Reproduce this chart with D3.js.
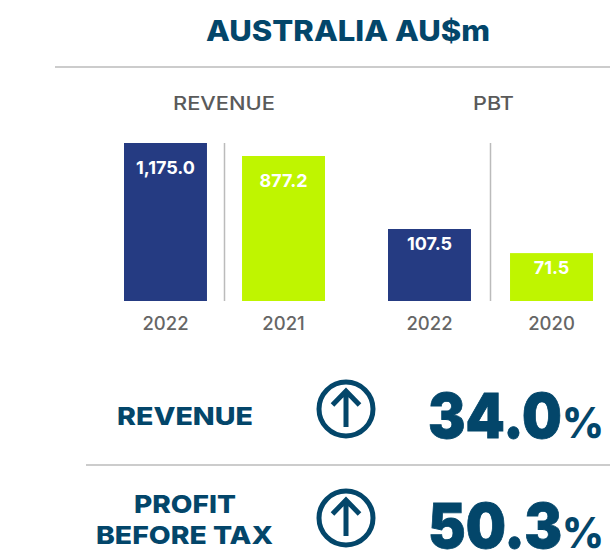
<!DOCTYPE html>
<html>
<head>
<meta charset="utf-8">
<script src="https://cdn.jsdelivr.net/npm/d3@7"></script>
<style>
  html, body { margin: 0; background: #fff; }
  svg { display: block; font-family: Inter, "Noto Sans", sans-serif; }
</style>
</head>
<body>
<div id="chart"></div>
<script>
// values
const revenueYears = ['2022', '2021'];
const revenueValues = [1175.0, 877.2];
const pbtYears = ['2022', '2020'];
const pbtValues = [107.5, 71.5];
const barColors = ['#253b82', '#bff500'];
const kpiValues = ['34.0', '50.3'];

const width = 610;
const height = 550;
const teal = '#03466a';
const grey = '#5a5a5a';
const ruleColor = '#bbbbbb';

const svg = d3
  .select('#chart')
  .append('svg')
  .attr('width', width)
  .attr('height', height);

function fitText(sel, w) {
  return sel.attr('textLength', w).attr('lengthAdjust', 'spacingAndGlyphs');
}

function rule(x1, x2, y) {
  svg.append('line')
    .attr('x1', x1).attr('x2', x2).attr('y1', y).attr('y2', y)
    .attr('stroke', ruleColor).attr('stroke-width', 1.5);
}

// title
fitText(svg.append('text')
  .attr('x', 206).attr('y', 41)
  .attr('fill', teal)
  .attr('font-size', 28)
  .attr('font-weight', 800)
  .text('AUSTRALIA AU$m'), 284);
rule(55, 610, 67);

const baseY = 301;

function panel(opts) {
  const g = svg.append('g');

  const x = d3.scaleBand()
    .domain(opts.years)
    .range(opts.xRange)
    .paddingInner(opts.pad);

  // the picture's bars are not zero based on the revenue side, hence the domain
  const y = d3.scaleLinear().domain(opts.domain).range([baseY, opts.topY]);

  fitText(g.append('text')
    .attr('x', opts.titleX).attr('y', 110)
    .attr('fill', grey)
    .attr('font-size', 19)
    .attr('font-weight', 500)
    .text(opts.title), opts.titleW);

  g.selectAll('rect')
    .data(opts.values)
    .join('rect')
    .attr('x', (d, i) => x(opts.years[i]))
    .attr('y', d => y(d))
    .attr('width', x.bandwidth())
    .attr('height', d => baseY - y(d))
    .attr('fill', (d, i) => barColors[i]);

  g.selectAll('.val')
    .data(opts.values)
    .join('text')
    .attr('class', 'val')
    .attr('x', (d, i) => x(opts.years[i]) + x.bandwidth() / 2)
    .attr('y', d => y(d) + opts.labelDy)
    .attr('text-anchor', 'middle')
    .attr('fill', '#fff')
    .attr('font-size', 18)
    .attr('font-weight', 700)
    .text(d => d3.format(',.1f')(d));

  // divider between the two bars
  const midX = x(opts.years[0]) + x.bandwidth() + (x.step() - x.bandwidth()) / 2;
  g.append('line')
    .attr('x1', midX).attr('x2', midX)
    .attr('y1', 143).attr('y2', baseY)
    .attr('stroke', ruleColor).attr('stroke-width', 1.5);

  const axis = g.append('g')
    .attr('transform', `translate(0,${baseY})`)
    .call(d3.axisBottom(x).tickSize(0).tickPadding(16));
  axis.select('.domain').remove();
  axis.selectAll('text')
    .attr('fill', '#666')
    .attr('font-size', 18.5)
    .attr('font-weight', 500)
    .attr('font-family', 'Inter, "Noto Sans", sans-serif');
}

panel({
  title: 'REVENUE', titleX: 173, titleW: 102,
  years: revenueYears, values: revenueValues,
  xRange: [124, 325], pad: 0.297,
  domain: [-2444, 1175], topY: 143, labelDy: 31
});

panel({
  title: 'PBT', titleX: 473, titleW: 41,
  years: pbtYears, values: pbtValues,
  xRange: [388, 593], pad: 0.32,
  domain: [0, 107.5], topY: 229, labelDy: 21
});

function kpiLabel(txt, x, y, w) {
  fitText(svg.append('text')
    .attr('x', x).attr('y', y)
    .attr('fill', teal)
    .attr('font-size', 25)
    .attr('font-weight', 800)
    .text(txt), w);
}

function kpi(value, cy, baseline) {
  const g = svg.append('g').attr('transform', `translate(346,${cy})`);
  g.append('circle')
    .attr('r', 27)
    .attr('fill', 'none')
    .attr('stroke', teal)
    .attr('stroke-width', 5);
  g.append('path')
    .attr('d', 'M0,18V-17M-13.5,-4L0,-18L13.5,-4')
    .attr('fill', 'none')
    .attr('stroke', teal)
    .attr('stroke-width', 5);

  const t = svg.append('text')
    .attr('x', 428).attr('y', baseline)
    .attr('fill', teal)
    .attr('stroke', teal)
    .attr('stroke-width', 0.8)
    .attr('font-weight', 900);
  fitText(t.append('tspan').attr('font-size', 62).text(value), 134);
  fitText(t.append('tspan').attr('font-size', 42).attr('font-weight', 800).attr('stroke-width', 0).text('%'), 42);
}

kpiLabel('REVENUE', 117, 425, 136);
kpi(kpiValues[0], 409, 438);
rule(86, 610, 465);
kpiLabel('PROFIT', 134, 513, 102);
kpiLabel('BEFORE TAX', 96, 544, 177);
kpi(kpiValues[1], 518, 548);
</script>
</body>
</html>
